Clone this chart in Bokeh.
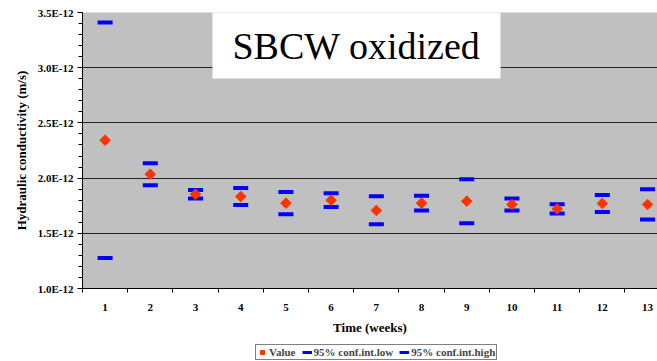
import numpy as np
from bokeh.plotting import figure
from bokeh.layouts import column
from bokeh.models import (FixedTicker, CustomJSTickFormatter, Legend, LegendItem,
                          Label, Range1d, ColumnDataSource)
from bokeh.embed import file_html
from bokeh.resources import INLINE

# ---- data (hydraulic conductivity, m/s) ----
weeks = list(range(1, 14))
value = [2.343, 2.035, 1.854, 1.833, 1.773, 1.800, 1.707, 1.773, 1.791, 1.761, 1.721, 1.770, 1.761]
conf_low = [1.277, 1.936, 1.815, 1.757, 1.673, 1.739, 1.582, 1.707, 1.591, 1.707, 1.679, 1.694, 1.625]
conf_high = [3.410, 2.135, 1.893, 1.911, 1.875, 1.863, 1.836, 1.839, 1.990, 1.815, 1.764, 1.848, 1.899]
y_ticks = [1.0, 1.5, 2.0, 2.5, 3.0, 3.5]
unit = 1e-12

src = ColumnDataSource(dict(
    x=weeks,
    v=[a * unit for a in value],
    lo=[a * unit for a in conf_low],
    hi=[a * unit for a in conf_high],
))

FONT = "'Liberation Serif', 'Times New Roman', Times, serif"
RED = "#FF3300"
BLUE = "#0000FF"

p = figure(frame_width=575, frame_height=276, output_backend="svg", toolbar_location=None,
           x_range=Range1d(0.5, 13.22), y_range=Range1d(1.0e-12, 3.5e-12),
           min_border_left=82, min_border_right=0, min_border_top=12, min_border_bottom=55)
p.background_fill_color = "#C0C0C0"
p.border_fill_color = "white"
p.outline_line_color = None

# y axis
p.yaxis.ticker = FixedTicker(ticks=[t * unit for t in y_ticks],
                             minor_ticks=[round(1.0 + 0.1 * i, 1) * unit for i in range(26)])
p.yaxis.formatter = CustomJSTickFormatter(code="return tick.toExponential(1).toUpperCase();")
p.yaxis.axis_label = "Hydraulic conductivity (m/s)"
p.yaxis.major_tick_out = 5
p.yaxis.major_tick_in = 0
p.yaxis.minor_tick_out = 4
p.yaxis.minor_tick_in = 0
p.yaxis.major_label_standoff = 4
p.yaxis.axis_label_standoff = 6

# x axis
p.xaxis.ticker = FixedTicker(ticks=weeks, minor_ticks=[w + 0.5 for w in range(0, 14)])
p.xaxis.axis_label = "Time (weeks)"
p.xaxis.major_tick_out = 0
p.xaxis.major_tick_in = 0
p.xaxis.minor_tick_out = 4
p.xaxis.minor_tick_in = 0
p.xaxis.major_label_standoff = 11
p.xaxis.axis_label_standoff = 6

for ax in (p.xaxis, p.yaxis):
    ax.axis_line_color = "black"
    ax.major_tick_line_color = "black"
    ax.minor_tick_line_color = "black"
    ax.major_label_text_font = FONT
    ax.major_label_text_font_style = "bold"
    ax.major_label_text_font_size = "11px"
    ax.major_label_text_color = "black"
    ax.axis_label_text_font = FONT
    ax.axis_label_text_font_style = "bold"
    ax.axis_label_text_font_size = "13px"
    ax.axis_label_text_color = "black"

p.xgrid.grid_line_color = None
p.ygrid.grid_line_color = "#222222"
p.ygrid.grid_line_width = 1

p.scatter("x", "lo", source=src, marker="dash", size=15, line_color=BLUE, line_width=4)
p.scatter("x", "hi", source=src, marker="dash", size=15, line_color=BLUE, line_width=4)
p.scatter("x", "v", source=src, marker="square", angle=np.pi / 4, size=7.5,
          fill_color=RED, line_color=RED)

title = Label(x=274, y=243, x_units="screen", y_units="screen", text="SBCW oxidized",
              text_font=FONT, text_font_size="38px", text_color="black",
              text_align="center", text_baseline="middle",
              background_fill_color="white",
              padding=dict(left=20, right=20, top=12, bottom=12))
p.add_layout(title)

# ---- legend strip below the chart ----
q = figure(width=657, height=18, output_backend="svg", toolbar_location=None,
           x_range=Range1d(-3, -2), y_range=Range1d(-3, -2),
           min_border=0, x_axis_type=None, y_axis_type=None)
q.outline_line_color = None
q.background_fill_color = "white"
q.border_fill_color = "white"
q.grid.visible = False
l_v = q.scatter("x", "v", source=src, marker="square", angle=np.pi / 4,
                fill_color=RED, line_color=RED)
l_lo = q.line("x", "lo", source=src, line_color=BLUE, line_width=3)
l_hi = q.line("x", "hi", source=src, line_color=BLUE, line_width=3)

legend = Legend(items=[LegendItem(label="Value", renderers=[l_v]),
                       LegendItem(label="95% conf.int.low", renderers=[l_lo]),
                       LegendItem(label="95% conf.int.high", renderers=[l_hi])],
                location=(173, 1), orientation="horizontal",
                border_line_color="black", border_line_width=1,
                background_fill_color="white", background_fill_alpha=1,
                label_text_font=FONT, label_text_font_style="bold",
                label_text_font_size="11px", label_height=12, glyph_height=12,
                glyph_width=10, label_standoff=2, spacing=6, padding=1, margin=0)
q.add_layout(legend, "center")

open("out.html", "w").write(file_html(column(p, q, spacing=0), INLINE))
